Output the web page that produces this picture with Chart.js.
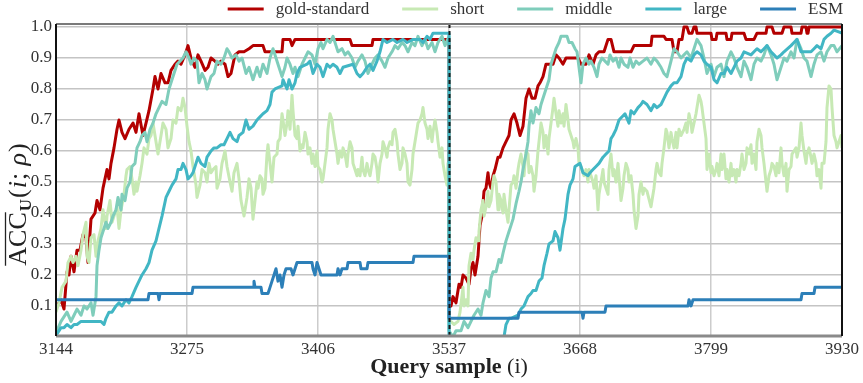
<!DOCTYPE html>
<html>
<head>
<meta charset="utf-8">
<title>ACC_U over query samples</title>
<script src="https://cdn.jsdelivr.net/npm/chart.js@4.4.1/dist/chart.umd.min.js"></script>
<style>
  html, body { margin: 0; padding: 0; background: #ffffff; }
  #wrap { width: 863px; height: 383px; position: relative; }
</style>
</head>
<body>
<div id="wrap"><canvas id="accChart"></canvas></div>
<script>
// first sample of each query block (a new block starts at 3537)
const blockStarts = [3144, 3537];
const xTicks = [3144, 3275, 3406, 3537, 3668, 3799, 3930];
const yTicks = [0.1, 0.2, 0.3, 0.4, 0.5, 0.6, 0.7, 0.8, 0.9, 1.0];

const seriesNames = ['gold-standard', 'short', 'middle', 'large', 'ESM'];
const seriesColors = ['#b30000', '#c7e9b4', '#7fcdbb', '#41b6c4', '#2c7fb8'];

// [query sample, running accuracy]
const goldStandard = [
  [3144,0.10],[3145,0.10],[3149,0.12],[3152,0.09],[3155,0.21],[3157,0.20],[3159,0.26],[3162,0.21],[3165,0.28],[3168,0.28],
  [3171,0.33],[3174,0.32],[3176,0.24],[3179,0.38],[3183,0.40],[3185,0.44],[3188,0.41],[3191,0.48],[3195,0.54],[3197,0.51],
  [3199,0.56],[3202,0.61],[3205,0.67],[3207,0.70],[3210,0.66],[3213,0.64],[3217,0.67],[3221,0.69],[3224,0.66],[3227,0.72],
  [3231,0.65],[3234,0.69],[3237,0.73],[3241,0.80],[3243,0.84],[3246,0.80],[3249,0.85],[3253,0.82],[3256,0.82],[3259,0.86],
  [3263,0.88],[3266,0.89],[3269,0.88],[3273,0.91],[3276,0.94],[3279,0.90],[3283,0.87],[3286,0.91],[3289,0.89],[3293,0.86],
  [3296,0.87],[3299,0.90],[3303,0.89],[3306,0.88],[3309,0.89],[3313,0.88],[3316,0.84],[3319,0.85],[3323,0.91],[3327,0.92],
  [3332,0.92],[3337,0.93],[3341,0.94],[3351,0.94],[3353,0.92],[3370,0.92],[3371,0.96],[3378,0.96],[3380,0.94],[3383,0.96],
  [3438,0.96],[3440,0.94],[3460,0.94],[3461,0.96],[3537,0.96],
  [3537,0.10],[3539,0.10],[3541,0.13],[3544,0.11],[3547,0.17],[3549,0.16],[3551,0.20],[3554,0.19],[3557,0.17],[3559,0.22],
  [3561,0.24],[3563,0.20],[3566,0.26],[3568,0.36],[3570,0.39],[3572,0.47],[3574,0.48],[3576,0.53],[3577,0.50],[3579,0.48],
  [3581,0.52],[3583,0.54],[3586,0.58],[3588,0.58],[3591,0.61],[3594,0.63],[3597,0.65],[3599,0.70],[3602,0.72],[3605,0.69],
  [3608,0.65],[3611,0.68],[3614,0.77],[3617,0.80],[3620,0.77],[3623,0.77],[3626,0.81],[3628,0.82],[3631,0.84],[3634,0.88],
  [3641,0.88],[3644,0.91],[3647,0.90],[3651,0.88],[3654,0.90],[3666,0.90],[3669,0.88],[3674,0.88],[3677,0.91],[3681,0.88],
  [3684,0.91],[3687,0.92],[3692,0.92],[3696,0.96],[3699,0.96],[3702,0.92],[3719,0.92],[3722,0.94],[3739,0.94],[3740,0.97],
  [3752,0.97],[3754,0.96],[3760,0.96],[3762,0.92],[3765,0.92],[3767,0.96],[3770,0.96],[3772,1.00],[3775,1.00],[3777,0.98],
  [3780,0.98],[3782,1.00],[3784,1.00],[3785,0.98],[3799,0.98],[3800,0.96],[3804,0.96],[3805,0.98],[3814,0.98],[3815,0.96],
  [3819,0.96],[3820,0.98],[3832,0.98],[3834,0.96],[3842,0.96],[3845,0.98],[3854,0.98],[3855,1.00],[3860,1.00],[3862,0.98],
  [3870,0.98],[3872,1.00],[3879,1.00],[3880,0.98],[3889,0.98],[3890,1.00],[3894,1.00],[3895,0.98],[3896,0.98],[3897,1.00],
  [3930,1.00]
];

const shortCtx = [
  [3144,0.08],[3147,0.11],[3150,0.16],[3154,0.18],[3156,0.24],[3159,0.26],[3161,0.24],[3164,0.26],[3166,0.23],[3169,0.28],
  [3171,0.33],[3174,0.37],[3175,0.26],[3177,0.24],[3179,0.32],[3182,0.33],[3184,0.26],[3186,0.31],[3189,0.35],[3191,0.41],
  [3194,0.35],[3195,0.39],[3198,0.44],[3200,0.37],[3202,0.39],[3205,0.42],[3207,0.35],[3209,0.41],[3212,0.46],[3214,0.52],
  [3215,0.54],[3218,0.55],[3220,0.51],[3222,0.46],[3224,0.50],[3225,0.47],[3228,0.52],[3230,0.56],[3232,0.61],[3235,0.59],
  [3237,0.64],[3239,0.65],[3241,0.69],[3244,0.63],[3246,0.59],[3249,0.65],[3251,0.69],[3254,0.67],[3256,0.61],[3259,0.64],
  [3261,0.70],[3264,0.69],[3266,0.74],[3269,0.73],[3271,0.77],[3273,0.74],[3275,0.68],[3277,0.63],[3279,0.60],[3281,0.55],
  [3284,0.49],[3285,0.45],[3288,0.49],[3290,0.54],[3293,0.53],[3295,0.50],[3297,0.56],[3299,0.53],[3301,0.54],[3304,0.55],
  [3305,0.48],[3308,0.51],[3310,0.56],[3313,0.60],[3315,0.55],[3318,0.50],[3320,0.47],[3322,0.53],[3325,0.56],[3327,0.51],
  [3329,0.44],[3332,0.39],[3335,0.45],[3337,0.51],[3339,0.48],[3341,0.38],[3343,0.44],[3345,0.50],[3346,0.48],[3348,0.52],
  [3350,0.51],[3351,0.46],[3353,0.48],[3355,0.59],[3356,0.62],[3358,0.56],[3360,0.50],[3362,0.58],[3365,0.59],[3366,0.63],
  [3368,0.64],[3370,0.72],[3371,0.70],[3373,0.65],[3375,0.69],[3376,0.73],[3378,0.67],[3380,0.78],[3381,0.73],[3383,0.65],
  [3385,0.64],[3386,0.68],[3388,0.60],[3390,0.62],[3391,0.61],[3393,0.66],[3395,0.63],[3396,0.59],[3398,0.61],[3400,0.56],
  [3401,0.59],[3403,0.55],[3405,0.60],[3406,0.55],[3408,0.54],[3410,0.50],[3411,0.51],[3413,0.56],[3415,0.61],[3416,0.67],
  [3418,0.72],[3420,0.70],[3421,0.67],[3423,0.63],[3425,0.59],[3426,0.56],[3428,0.60],[3430,0.58],[3431,0.61],[3433,0.59],
  [3435,0.55],[3436,0.59],[3438,0.63],[3440,0.61],[3441,0.56],[3443,0.54],[3445,0.52],[3446,0.54],[3448,0.52],[3450,0.58],
  [3451,0.54],[3453,0.52],[3455,0.56],[3456,0.54],[3458,0.52],[3460,0.56],[3461,0.59],[3463,0.58],[3465,0.54],[3466,0.50],
  [3468,0.56],[3470,0.59],[3471,0.63],[3473,0.61],[3475,0.58],[3476,0.61],[3478,0.63],[3480,0.62],[3481,0.66],[3483,0.67],
  [3485,0.63],[3486,0.59],[3488,0.54],[3490,0.56],[3491,0.61],[3493,0.59],[3495,0.56],[3496,0.50],[3498,0.49],[3500,0.54],
  [3501,0.59],[3503,0.63],[3505,0.67],[3506,0.69],[3508,0.70],[3510,0.72],[3511,0.74],[3513,0.69],[3515,0.67],[3516,0.64],
  [3518,0.68],[3520,0.63],[3521,0.66],[3523,0.70],[3525,0.66],[3526,0.63],[3528,0.58],[3530,0.61],[3531,0.56],[3533,0.52],
  [3535,0.49],[3536,0.56],[3537,0.52],
  [3537,0.05],[3539,0.05],[3542,0.04],[3546,0.05],[3548,0.08],[3551,0.16],[3552,0.10],[3554,0.12],[3556,0.10],[3557,0.23],
  [3559,0.27],[3561,0.25],[3562,0.28],[3564,0.32],[3566,0.31],[3567,0.34],[3569,0.41],[3571,0.44],[3572,0.39],[3574,0.42],
  [3576,0.47],[3577,0.42],[3579,0.44],[3581,0.50],[3582,0.52],[3584,0.50],[3586,0.41],[3587,0.46],[3589,0.44],[3591,0.40],
  [3592,0.46],[3594,0.41],[3596,0.37],[3597,0.41],[3599,0.49],[3601,0.50],[3602,0.52],[3604,0.48],[3606,0.54],[3607,0.56],
  [3609,0.59],[3611,0.55],[3612,0.52],[3614,0.60],[3616,0.59],[3617,0.53],[3619,0.55],[3621,0.52],[3622,0.47],[3624,0.52],
  [3626,0.60],[3627,0.63],[3629,0.69],[3631,0.66],[3632,0.61],[3634,0.65],[3636,0.59],[3637,0.64],[3639,0.69],[3641,0.74],
  [3642,0.77],[3644,0.72],[3646,0.68],[3647,0.73],[3649,0.69],[3651,0.72],[3652,0.68],[3654,0.75],[3656,0.70],[3657,0.67],
  [3659,0.65],[3661,0.63],[3662,0.61],[3664,0.64],[3666,0.61],[3667,0.56],[3669,0.55],[3671,0.53],[3672,0.52],[3674,0.54],
  [3676,0.50],[3677,0.54],[3679,0.52],[3681,0.50],[3682,0.48],[3684,0.52],[3686,0.41],[3687,0.46],[3689,0.50],[3691,0.54],
  [3692,0.50],[3694,0.48],[3696,0.46],[3697,0.54],[3699,0.59],[3701,0.52],[3702,0.54],[3704,0.50],[3706,0.56],[3707,0.52],
  [3709,0.44],[3711,0.48],[3712,0.52],[3714,0.56],[3716,0.54],[3717,0.50],[3719,0.52],[3721,0.46],[3722,0.41],[3724,0.35],
  [3726,0.39],[3727,0.46],[3729,0.50],[3731,0.46],[3732,0.48],[3735,0.47],[3739,0.42],[3740,0.44],[3742,0.48],[3744,0.54],
  [3745,0.56],[3747,0.53],[3749,0.52],[3750,0.56],[3752,0.61],[3754,0.67],[3755,0.66],[3757,0.61],[3759,0.66],[3760,0.64],
  [3762,0.61],[3764,0.66],[3765,0.61],[3767,0.67],[3769,0.65],[3772,0.67],[3774,0.69],[3775,0.66],[3777,0.72],[3779,0.69],
  [3780,0.66],[3782,0.69],[3784,0.72],[3785,0.74],[3787,0.78],[3789,0.76],[3790,0.74],[3792,0.69],[3794,0.64],[3795,0.54],
  [3797,0.59],[3799,0.53],[3800,0.55],[3802,0.52],[3804,0.54],[3805,0.56],[3807,0.52],[3809,0.59],[3810,0.54],[3812,0.59],
  [3814,0.51],[3815,0.54],[3817,0.50],[3819,0.56],[3820,0.52],[3822,0.54],[3824,0.50],[3825,0.54],[3827,0.52],[3829,0.56],
  [3830,0.59],[3832,0.54],[3834,0.56],[3835,0.61],[3837,0.59],[3839,0.62],[3840,0.56],[3842,0.59],[3844,0.54],[3845,0.63],
  [3847,0.67],[3849,0.65],[3850,0.61],[3852,0.56],[3854,0.50],[3855,0.47],[3857,0.52],[3859,0.54],[3860,0.56],[3862,0.55],
  [3864,0.52],[3865,0.56],[3867,0.53],[3869,0.61],[3870,0.56],[3872,0.52],[3874,0.56],[3875,0.47],[3877,0.54],[3879,0.55],
  [3880,0.59],[3882,0.60],[3884,0.61],[3885,0.58],[3887,0.61],[3889,0.69],[3890,0.65],[3892,0.60],[3894,0.56],[3895,0.59],
  [3897,0.61],[3899,0.58],[3900,0.56],[3902,0.59],[3904,0.56],[3905,0.52],[3907,0.54],[3909,0.48],[3910,0.56],[3912,0.56],
  [3914,0.63],[3915,0.74],[3917,0.81],[3919,0.80],[3920,0.74],[3922,0.65],[3924,0.63],[3925,0.61],[3927,0.63],[3929,0.65],
  [3930,0.61]
];

const middleCtx = [
  [3144,0.01],[3145,0.02],[3149,0.05],[3155,0.08],[3159,0.05],[3162,0.07],[3165,0.09],[3169,0.07],[3172,0.10],[3175,0.09],
  [3179,0.11],[3181,0.07],[3184,0.13],[3185,0.23],[3187,0.28],[3189,0.32],[3191,0.34],[3194,0.37],[3196,0.35],[3199,0.37],
  [3201,0.39],[3204,0.41],[3206,0.45],[3209,0.41],[3210,0.46],[3213,0.44],[3215,0.48],[3218,0.50],[3220,0.55],[3223,0.56],
  [3225,0.61],[3228,0.63],[3230,0.65],[3233,0.66],[3235,0.63],[3238,0.67],[3241,0.69],[3244,0.72],[3247,0.74],[3250,0.76],
  [3254,0.75],[3257,0.80],[3259,0.82],[3262,0.85],[3265,0.88],[3268,0.89],[3271,0.90],[3274,0.92],[3277,0.90],[3279,0.88],
  [3282,0.90],[3285,0.89],[3287,0.82],[3290,0.85],[3293,0.83],[3295,0.80],[3299,0.84],[3302,0.85],[3305,0.89],[3309,0.88],
  [3312,0.90],[3315,0.93],[3317,0.92],[3320,0.90],[3324,0.91],[3327,0.89],[3330,0.90],[3334,0.85],[3337,0.87],[3341,0.83],
  [3345,0.87],[3348,0.84],[3351,0.88],[3355,0.85],[3358,0.90],[3361,0.93],[3364,0.90],[3366,0.88],[3370,0.84],[3373,0.87],
  [3375,0.90],[3378,0.88],[3381,0.85],[3383,0.87],[3386,0.84],[3390,0.88],[3393,0.90],[3396,0.92],[3400,0.91],[3403,0.88],
  [3406,0.93],[3409,0.95],[3411,0.93],[3415,0.96],[3418,0.95],[3421,0.97],[3424,0.94],[3426,0.92],[3430,0.93],[3433,0.91],
  [3436,0.92],[3440,0.90],[3443,0.87],[3446,0.89],[3450,0.91],[3453,0.89],[3456,0.85],[3460,0.88],[3463,0.90],[3466,0.91],
  [3470,0.89],[3473,0.87],[3476,0.90],[3480,0.92],[3483,0.94],[3486,0.93],[3490,0.95],[3493,0.94],[3496,0.92],[3500,0.95],
  [3503,0.94],[3506,0.97],[3510,0.94],[3513,0.96],[3516,0.93],[3520,0.95],[3523,0.92],[3526,0.95],[3530,0.97],[3533,0.94],
  [3537,0.97],
  [3537,0.02],[3541,0.00],[3544,0.02],[3549,0.02],[3552,0.05],[3556,0.03],[3559,0.05],[3562,0.07],[3566,0.09],[3569,0.07],
  [3571,0.11],[3574,0.15],[3577,0.13],[3579,0.19],[3581,0.21],[3584,0.21],[3587,0.25],[3589,0.24],[3591,0.27],[3594,0.31],
  [3597,0.34],[3599,0.36],[3601,0.38],[3604,0.43],[3607,0.47],[3609,0.50],[3611,0.54],[3614,0.59],[3616,0.63],[3617,0.68],
  [3619,0.73],[3621,0.69],[3624,0.74],[3627,0.72],[3629,0.75],[3631,0.77],[3634,0.80],[3637,0.83],[3639,0.88],[3641,0.90],
  [3644,0.93],[3647,0.95],[3649,0.97],[3655,0.97],[3657,0.95],[3660,0.95],[3663,0.93],[3665,0.92],[3667,0.87],[3669,0.82],
  [3671,0.88],[3674,0.90],[3677,0.88],[3679,0.89],[3682,0.87],[3685,0.84],[3687,0.88],[3690,0.90],[3693,0.89],[3696,0.88],
  [3698,0.91],[3701,0.89],[3704,0.90],[3707,0.87],[3709,0.90],[3712,0.88],[3716,0.87],[3718,0.90],[3721,0.87],[3724,0.89],
  [3727,0.88],[3731,0.89],[3735,0.90],[3739,0.88],[3742,0.90],[3745,0.89],[3749,0.87],[3752,0.85],[3755,0.84],[3759,0.89],
  [3762,0.93],[3765,0.92],[3769,0.90],[3772,0.91],[3775,0.92],[3779,0.90],[3782,0.93],[3785,0.96],[3789,0.94],[3792,0.90],
  [3795,0.85],[3799,0.88],[3802,0.84],[3805,0.87],[3809,0.88],[3812,0.84],[3815,0.89],[3819,0.92],[3822,0.90],[3825,0.87],
  [3829,0.84],[3832,0.89],[3835,0.87],[3839,0.83],[3842,0.88],[3845,0.90],[3849,0.89],[3852,0.91],[3855,0.94],[3859,0.91],
  [3862,0.88],[3865,0.83],[3869,0.87],[3872,0.90],[3875,0.89],[3879,0.92],[3882,0.90],[3885,0.96],[3889,0.93],[3892,0.90],
  [3895,0.89],[3899,0.84],[3902,0.88],[3905,0.91],[3909,0.92],[3912,0.89],[3915,0.92],[3919,0.94],[3922,0.94],[3925,0.92],
  [3930,0.94]
];

const largeCtx = [
  [3144,0.01],[3145,0.01],[3149,0.03],[3152,0.03],[3155,0.04],[3159,0.03],[3162,0.04],[3165,0.04],[3169,0.05],[3189,0.05],
  [3192,0.04],[3194,0.06],[3197,0.08],[3200,0.08],[3204,0.10],[3207,0.11],[3210,0.10],[3214,0.12],[3217,0.11],[3220,0.13],
  [3224,0.16],[3227,0.18],[3230,0.20],[3234,0.22],[3237,0.24],[3240,0.28],[3244,0.31],[3247,0.35],[3250,0.39],[3254,0.45],
  [3257,0.47],[3260,0.49],[3264,0.51],[3266,0.54],[3269,0.54],[3271,0.56],[3274,0.54],[3276,0.51],[3279,0.52],[3281,0.53],
  [3284,0.56],[3286,0.58],[3289,0.56],[3293,0.55],[3295,0.58],[3299,0.60],[3302,0.61],[3305,0.61],[3309,0.62],[3312,0.62],
  [3315,0.64],[3318,0.66],[3321,0.64],[3325,0.63],[3327,0.65],[3331,0.66],[3334,0.70],[3337,0.67],[3341,0.68],[3345,0.70],
  [3348,0.71],[3351,0.72],[3355,0.73],[3358,0.75],[3360,0.79],[3363,0.80],[3370,0.81],[3371,0.83],[3375,0.80],[3377,0.83],
  [3380,0.80],[3383,0.82],[3385,0.85],[3388,0.87],[3395,0.88],[3398,0.89],[3401,0.85],[3405,0.88],[3408,0.87],[3411,0.84],
  [3415,0.88],[3418,0.87],[3421,0.88],[3425,0.87],[3428,0.85],[3431,0.87],[3441,0.88],[3445,0.85],[3448,0.84],[3451,0.85],
  [3455,0.87],[3458,0.88],[3461,0.86],[3465,0.89],[3468,0.92],[3471,0.96],[3475,0.95],[3481,0.96],[3485,0.95],[3491,0.96],
  [3495,0.95],[3501,0.96],[3508,0.96],[3511,0.95],[3515,0.97],[3518,0.96],[3521,0.98],[3537,0.98],
  [3537,0.00],[3592,0.00],[3594,0.04],[3597,0.06],[3599,0.06],[3606,0.07],[3609,0.09],[3612,0.10],[3616,0.13],[3619,0.14],
  [3621,0.15],[3624,0.15],[3627,0.18],[3630,0.19],[3632,0.23],[3635,0.27],[3637,0.30],[3641,0.31],[3643,0.34],[3646,0.32],
  [3648,0.28],[3651,0.35],[3653,0.38],[3656,0.46],[3658,0.49],[3661,0.51],[3663,0.55],[3668,0.56],[3671,0.53],[3676,0.52],
  [3678,0.53],[3681,0.54],[3684,0.55],[3687,0.56],[3691,0.58],[3694,0.59],[3697,0.60],[3699,0.64],[3701,0.65],[3704,0.67],
  [3707,0.70],[3713,0.72],[3717,0.69],[3719,0.73],[3722,0.72],[3726,0.74],[3729,0.75],[3731,0.76],[3735,0.75],[3739,0.73],
  [3742,0.75],[3745,0.74],[3749,0.75],[3752,0.77],[3755,0.79],[3759,0.81],[3762,0.82],[3765,0.82],[3769,0.84],[3772,0.88],
  [3775,0.90],[3779,0.89],[3782,0.91],[3785,0.92],[3789,0.91],[3792,0.89],[3795,0.88],[3799,0.87],[3802,0.83],[3805,0.82],
  [3809,0.85],[3812,0.85],[3815,0.87],[3819,0.85],[3822,0.87],[3825,0.89],[3829,0.90],[3832,0.92],[3839,0.91],[3842,0.92],
  [3845,0.93],[3849,0.92],[3852,0.93],[3855,0.94],[3859,0.92],[3862,0.91],[3865,0.90],[3869,0.91],[3872,0.92],[3879,0.94],
  [3882,0.95],[3885,0.96],[3889,0.92],[3899,0.92],[3902,0.93],[3905,0.94],[3909,0.93],[3912,0.96],[3915,0.97],[3919,0.98],
  [3922,0.99],[3930,0.98]
];

const esm = [
  [3144,0.12],[3236,0.12],[3237,0.14],[3246,0.14],[3247,0.12],[3248,0.14],[3280,0.14],[3281,0.16],[3341,0.16],[3342,0.18],
  [3343,0.16],[3349,0.16],[3350,0.14],[3356,0.14],[3358,0.16],[3360,0.18],[3362,0.20],[3364,0.22],[3366,0.18],[3368,0.20],
  [3370,0.16],[3372,0.20],[3374,0.22],[3379,0.22],[3381,0.20],[3383,0.22],[3385,0.24],[3400,0.24],[3401,0.22],[3403,0.20],
  [3405,0.24],[3407,0.22],[3409,0.20],[3425,0.20],[3426,0.22],[3428,0.20],[3430,0.22],[3435,0.22],[3436,0.24],[3448,0.24],
  [3449,0.22],[3455,0.22],[3456,0.24],[3501,0.24],[3502,0.26],[3537,0.26],
  [3537,0.06],[3606,0.06],[3607,0.08],[3670,0.08],[3671,0.06],[3672,0.08],[3693,0.08],[3694,0.10],[3776,0.10],[3777,0.12],
  [3779,0.10],[3781,0.12],[3889,0.12],[3890,0.14],[3902,0.14],[3903,0.16],[3930,0.16]
];

const seriesData = [goldStandard, shortCtx, middleCtx, largeCtx, esm];

const serif = '"Liberation Serif", "DejaVu Serif", serif';

// frame, block separator, legend and axis titles
const decorations = {
    id: 'decorations',
    afterDatasetsDraw(chart) {
        const { ctx, chartArea: a, scales } = chart;
        ctx.save();

        // dashed separator at the start of the second block
        const xb = Math.round(scales.x.getPixelForValue(blockStarts[1])) + 0.5;
        ctx.strokeStyle = '#1a1a1a';
        ctx.lineWidth = 2;
        ctx.setLineDash([4, 3]);
        ctx.beginPath();
        ctx.moveTo(xb, a.top);
        ctx.lineTo(xb, a.bottom);
        ctx.stroke();
        ctx.setLineDash([]);

        // spines
        ctx.strokeStyle = '#7a7a7a';
        ctx.lineWidth = 2;
        ctx.beginPath();
        ctx.moveTo(a.left, a.top);
        ctx.lineTo(a.right, a.top);
        ctx.stroke();
        ctx.lineWidth = 3;
        ctx.strokeStyle = '#8a8a8a';
        ctx.beginPath();
        ctx.moveTo(a.left, a.bottom);
        ctx.lineTo(a.right, a.bottom);
        ctx.stroke();
        ctx.strokeStyle = '#111111';
        ctx.lineWidth = 2;
        ctx.beginPath();
        ctx.moveTo(a.left, a.top);
        ctx.lineTo(a.left, a.bottom);
        ctx.moveTo(a.right, a.top);
        ctx.lineTo(a.right, a.bottom);
        ctx.stroke();
        ctx.restore();
    },
    afterDraw(chart) {
        const { ctx, chartArea: a } = chart;
        ctx.save();

        // legend, right aligned above the plot
        ctx.font = '17px ' + serif;
        ctx.textBaseline = 'middle';
        const swatch = 36, gap = 12, spacing = 33;
        const items = chart.data.datasets.map(ds => ({
            label: ds.label, color: ds.borderColor, w: ctx.measureText(ds.label).width
        }));
        let total = items.reduce((s, it) => s + swatch + gap + it.w, 0) + spacing * (items.length - 1);
        let x = 843 - total;
        items.forEach(it => {
            ctx.strokeStyle = it.color;
            ctx.lineWidth = 3;
            ctx.beginPath();
            ctx.moveTo(x, 9);
            ctx.lineTo(x + swatch, 9);
            ctx.stroke();
            ctx.fillStyle = '#333333';
            ctx.fillText(it.label, x + swatch + gap, 10);
            x += swatch + gap + it.w + spacing;
        });

        // x axis title: bold words followed by the index symbol
        ctx.textBaseline = 'alphabetic';
        ctx.fillStyle = '#222222';
        const boldFont = 'bold 22px ' + serif;
        const plainFont = '22px ' + serif;
        ctx.font = boldFont;
        const wBold = ctx.measureText('Query sample').width;
        ctx.font = plainFont;
        const wRest = ctx.measureText(' (i)').width;
        const tx = (a.left + a.right) / 2 - (wBold + wRest) / 2;
        ctx.font = boldFont;
        ctx.fillText('Query sample', tx, 373);
        ctx.font = plainFont;
        ctx.fillText(' (i)', tx + wBold, 373);

        // y axis title, rotated: overlined ACC, bold subscript U, (i; rho)
        const parts = [
            { t: 'ACC', f: '26px ' + serif, over: true },
            { t: 'U', f: 'bold 17px ' + serif, dy: 5 },
            { t: '(', f: '26px ' + serif },
            { t: 'i', f: 'italic 26px ' + serif },
            { t: '; ', f: '26px ' + serif },
            { t: 'ρ', f: 'italic 26px ' + serif },
            { t: ')', f: '26px ' + serif }
        ];
        parts.forEach(p => { ctx.font = p.f; p.w = ctx.measureText(p.t).width; });
        const len = parts.reduce((s, p) => s + p.w + 1, 0);
        ctx.translate(26, 204);
        ctx.rotate(-Math.PI / 2);
        let px = -len / 2;
        parts.forEach(p => {
            ctx.font = p.f;
            ctx.fillText(p.t, px, p.dy || 0);
            if (p.over) {
                ctx.lineWidth = 1.3;
                ctx.strokeStyle = '#222222';
                ctx.beginPath();
                ctx.moveTo(px, -20.5);
                ctx.lineTo(px + p.w, -20.5);
                ctx.stroke();
            }
            px += p.w + 1;
        });
        ctx.restore();
    }
};

document.addEventListener('DOMContentLoaded', function () {
    const canvas = document.getElementById('accChart');
    if (!canvas) {
        console.error('Canvas for accuracy chart not found.');
        return;
    }

    const datasets = seriesNames.map((name, i) => ({
        label: name,
        data: seriesData[i].map(([x, y]) => ({ x: x, y: y })),
        borderColor: seriesColors[i],
        backgroundColor: seriesColors[i],
        borderWidth: 3,
        fill: false,
        order: seriesNames.length - i   // first series at the bottom
    }));

    new Chart(canvas.getContext('2d'), {
        type: 'line',
        data: { datasets: datasets },
        options: {
            responsive: true,
            maintainAspectRatio: false,
            animation: false,
            layout: { padding: { top: 24, right: 21, left: 0, bottom: 0 } },
            elements: {
                point: { radius: 0 },
                line: { tension: 0, borderJoinStyle: 'round', borderCapStyle: 'butt' }
            },
            plugins: {
                legend: { display: false },
                tooltip: { enabled: false }
            },
            scales: {
                x: {
                    type: 'linear',
                    min: 3144,
                    max: 3930,
                    afterBuildTicks: scale => { scale.ticks = xTicks.map(v => ({ value: v })); },
                    afterFit: scale => { scale.height = 47; },
                    ticks: {
                        autoSkip: false,
                        maxRotation: 0,
                        padding: 3,
                        color: '#333333',
                        font: { family: serif, size: 17 },
                        callback: v => String(v)
                    },
                    grid: { color: '#cccccc', lineWidth: 1.5, drawTicks: false },
                    border: { display: false }
                },
                y: {
                    min: 0.003,
                    max: 1.0097,
                    afterBuildTicks: scale => { scale.ticks = yTicks.map(v => ({ value: v })); },
                    afterFit: scale => { scale.width = 56; },
                    ticks: {
                        padding: 4,
                        color: '#333333',
                        font: { family: serif, size: 17 },
                        callback: v => v.toFixed(1)
                    },
                    grid: { color: '#c4c4c4', lineWidth: 1.5, drawTicks: false },
                    border: { display: false }
                }
            }
        },
        plugins: [decorations]
    });
});
</script>
</body>
</html>
